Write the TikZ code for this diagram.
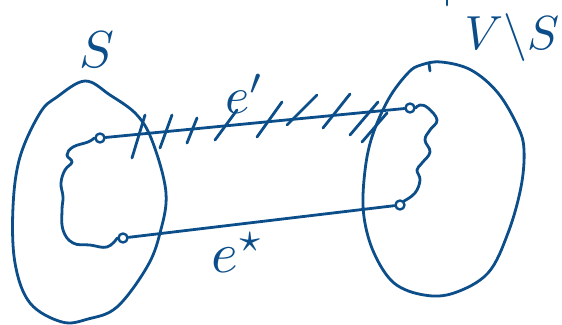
\documentclass[tikz,border=0pt]{standalone}
\usepackage{amsmath,amssymb}
\definecolor{ink}{RGB}{12,78,138}
\begin{document}
\begin{tikzpicture}[x=1pt, y=-1pt, ink, line width=2.8pt, line cap=round, line join=round,
    vert/.style={circle, draw, inner sep=0pt, minimum size=9pt, line width=2.4pt},
    lbl/.style={inner sep=0pt, scale=5.2}]
  \useasboundingbox (0,0) rectangle (562,324);
  % the two sides
  \draw plot[smooth cycle, tension=0.6] coordinates {(85,81) (110,95) (137,115) (153,143) (166,193) (160,233)
    (147,267) (117,307) (88,319) (62,322) (30,303) (15,263) (13,207) (20,157) (40,113) (57,97)};
  \draw plot[smooth cycle, tension=0.6] coordinates {(441,62) (471,70) (498,93) (518,127) (524,150) (521,187)
    (508,233) (488,273) (454,293) (424,295) (394,283) (374,253) (364,217) (364,180) (371,140) (388,100)
    (408,73) (421,65)};
  \draw (429,64) -- (430,71);
  \draw (447,0) -- (447,5);
  \node[lbl] (S) at (97,50) {$S$};
  \node[lbl, scale=0.92] (VS) at (512,38) {$V\backslash S$};
  % end points of the two edges
  \node[vert] (a) at (100,138) {};
  \node[vert] (b) at (410,108) {};
  \node[vert] (c) at (123,238) {};
  \node[vert] (d) at (400,205) {};
  \draw (a) -- (b);
  \draw (c) -- (d);
  % wiggly paths inside each side
  \draw plot[smooth, tension=0.7] coordinates {(a.west) (88,142) (73,147) (67,155) (72,162) (65,170) (61,183)
    (63,197) (62,210) (63,230) (73,243) (90,245) (107,247) (c.west)};
  \draw plot[smooth, tension=0.7] coordinates {(b.east) (420,105) (428,108) (437,120) (430,130) (425,140)
    (430,152) (422,163) (417,170) (420,180) (415,193) (d.north east)};
  % hatching on e'
  \foreach \xa/\ya/\xb/\yb in {145/115/132/158, 172/115/160/148, 197/118/187/143, 237/110/215/140,
      282/102/257/137, 317/95/287/125, 350/94/323/128, 378/102/350/135, 387/113/362/142}
    \draw (\xa,\ya) -- (\xb,\yb);
  \node[lbl] (e1) at (245,94) {$e'$};
  \node[lbl, scale=1.1] (e2) at (238,253) {$e^{\star}$};
\end{tikzpicture}
\end{document}
